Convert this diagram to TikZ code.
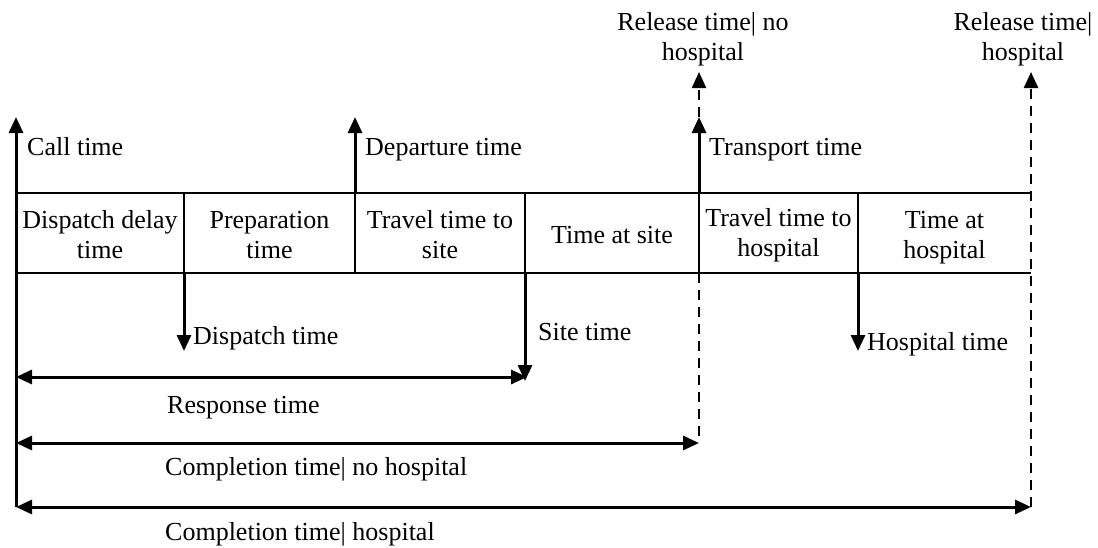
\documentclass[tikz,border=0pt]{standalone}
\usepackage{fontspec}
\setmainfont{Liberation Serif}
\usetikzlibrary{arrows.meta}
\begin{document}
\begin{tikzpicture}[x=1pt,y=-1pt,
  txt/.style={inner sep=0pt,font=\fontsize{26}{30}\selectfont},
  cell/.style={txt,align=center},
  boxline/.style={line width=2pt},
  tip/.style={line width=3pt,-{Triangle[length=16pt,width=14pt]}},
  dtip/.style={line width=3pt,{Triangle[length=16pt,width=14pt]}-{Triangle[length=16pt,width=14pt]}},
  dashln/.style={line width=2.4pt,dash pattern=on 10pt off 7pt},
  dasharrow/.style={dashln,-{Triangle[length=16pt,width=14pt]}}
]
\useasboundingbox (0,0) rectangle (1098,547);
% box coordinates
\foreach \i/\x in {0/16,1/184,2/355,3/525,4/699,5/858,6/1031}{
  \coordinate (t\i) at (\x,193);
  \coordinate (b\i) at (\x,273);
}
\draw[boxline] (t0) -- (t6);
\draw[boxline] (b0) -- (b6);
\foreach \i in {1,3,5}{\draw[boxline] (t\i) -- (b\i);}
\draw[line width=2.6pt] (t2) -- (b2);
\draw[line width=2.6pt] (t4) -- (b4);
% cells
\node[cell] (c1) at (100,235) {Dispatch delay\\time};
\node[cell] (c2) at (269.5,235) {Preparation\\time};
\node[cell] (c3) at (440,235) {Travel time to\\site};
\node[cell] (c4) at (612,235) {Time at site};
\node[cell] (c5) at (778.5,235) {Travel time to\\hospital};
\node[cell] (c6) at (944.5,238) {Time at\\hospital};
% coordinates for arrows
\coordinate (calltop) at (16,117);
\coordinate (callbot) at (16,507);
\coordinate (deptop) at (355,117);
\coordinate (trtop) at (699,117);
\coordinate (reltop) at (699,72);
\coordinate (relbot) at (699,443);
\coordinate (rhtop) at (1031,72);
\coordinate (rhbot) at (1031,507);
\coordinate (disptip) at (184,351);
\coordinate (sitetip) at (525,381);
\coordinate (hosptip) at (858,351);
\coordinate (respL) at (16,377);
\coordinate (respR) at (527,377);
\coordinate (cnhL) at (16,443);
\coordinate (chL) at (16,507);
% vertical arrows
\draw[tip] (callbot) -- (calltop);
\draw[tip] (t2) -- (deptop);
\draw[tip] (t4) -- (trtop);
\draw[dasharrow] (trtop) -- (reltop);
\draw[dashln] (b4) -- (relbot);
\draw[dasharrow] (rhbot) -- (rhtop);
\draw[tip] (b1) -- (disptip);
\draw[tip] (b3) -- (sitetip);
\draw[tip] (b5) -- (hosptip);
% horizontal double arrows
\draw[dtip] (respL) -- (respR);
\draw[dtip] (cnhL) -- (relbot);
\draw[dtip] (chL) -- (rhbot);
% labels
\node[txt,anchor=base west] (lcall) at (27,155) {Call time};
\node[txt,anchor=base west] (ldep) at (365,155) {Departure time};
\node[txt,anchor=base west] (ltr) at (709,155) {Transport time};
\node[txt,anchor=base west] (ldisp) at (193,344) {Dispatch time};
\node[txt,anchor=base west] (lsite) at (538,340) {Site time};
\node[txt,anchor=base west] (lhosp) at (867,350) {Hospital time};
\node[txt,anchor=base west] (lresp) at (167,413) {Response time};
\node[txt,anchor=base west] (lcnh) at (165,475) {Completion time| no hospital};
\node[txt,anchor=base west] (lch) at (165,540) {Completion time| hospital};
\node[cell] (lrel1) at (703,39) {Release time| no\\hospital};
\node[cell] (lrel2) at (1023,39) {Release time|\\hospital};
\end{tikzpicture}
\end{document}
